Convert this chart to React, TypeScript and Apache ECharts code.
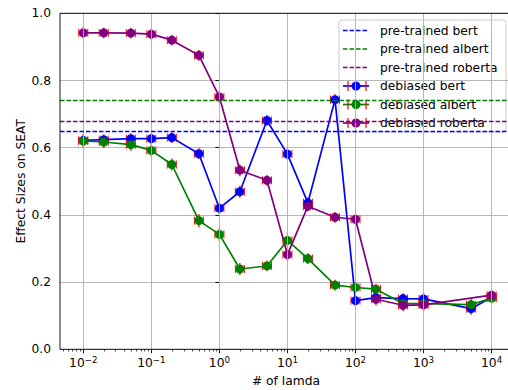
import React, { useEffect, useRef } from 'react';
import * as echarts from 'echarts';

// ---- data ----
const LAMBDAS = [0.01, 0.02, 0.05, 0.1, 0.2, 0.5, 1, 2, 5, 10, 20, 50, 100, 200, 500, 1000, 5000, 10000];
const BERT = [0.622, 0.624, 0.627, 0.627, 0.630, 0.582, 0.420, 0.469, 0.681, 0.581, 0.436, 0.743, 0.145, 0.154, 0.151, 0.150, 0.121, 0.155];
const ALBERT = [0.620, 0.617, 0.609, 0.592, 0.550, 0.383, 0.342, 0.239, 0.248, 0.324, 0.270, 0.191, 0.184, 0.179, 0.136, 0.136, 0.133, 0.152];
const ROBERTA = [0.942, 0.942, 0.941, 0.938, 0.920, 0.875, 0.751, 0.533, 0.503, 0.282, 0.426, 0.393, 0.387, 0.149, 0.131, 0.132, null, 0.161];
const BERT_ERR = [0.018, 0.016, 0.016, 0.016, 0.016, 0.016, 0.018, 0.018, 0.016, 0.016, 0.016, 0.016, 0.016, 0.016, 0.016, 0.018, 0.018, 0.016];
const ALBERT_ERR = [0.02, 0.018, 0.018, 0.018, 0.018, 0.02, 0.02, 0.018, 0.016, 0.02, 0.016, 0.016, 0.016, 0.016, 0.016, 0.016, 0.018, 0.016];
const ROBERTA_ERR = [0.016, 0.016, 0.016, 0.016, 0.016, 0.016, 0.018, 0.018, 0.016, 0.02, 0.016, 0.016, 0.016, 0.018, 0.018, 0.018, null, 0.018];

const PRETRAINED_NAMES = ['pre-trained bert', 'pre-trained albert', 'pre-trained roberta'];
const PRETRAINED_VALUES = [0.654, 0.737, 0.676];
const DEBIASED_NAMES = ['debiased bert', 'debiased albert', 'debiased roberta'];
const COLORS = ['#0000ff', '#008000', '#800080'];

const X_MAJOR_EXP = [-2, -1, 0, 1, 2, 3, 4];
const Y_MIN = 0;
const Y_MAX = 1;
const Y_STEP = 0.2;

const X_MIN = -2.342;
const X_MAX = 4.3;
const FONT = 'DejaVu Sans';
const SUP = (n: number) => String(n).replace('-', '\u2212');

const minorTicks: number[] = [];
for (let e = -3; e <= 4; e++) {
  for (let k = 2; k <= 9; k++) {
    const v = Math.log10(k) + e;
    if (v > X_MIN && v < X_MAX) minorTicks.push(v);
  }
}

function pts(vals: (number | null)[]) {
  const out: number[][] = [];
  vals.forEach((v, i) => {
    if (v !== null) out.push([Math.log10(LAMBDAS[i]), v]);
  });
  return out;
}
function errPts(vals: (number | null)[], errs: (number | null)[]) {
  const out: number[][] = [];
  vals.forEach((v, i) => {
    if (v !== null && errs[i] !== null) out.push([Math.log10(LAMBDAS[i]), v, errs[i] as number]);
  });
  return out;
}

function errSeries(data: number[][]) {
  return {
    type: 'custom',
    z: 2,
    silent: true,
    clip: false,
    data,
    renderItem: (params: any, api: any) => {
      const x = api.value(0);
      const y = api.value(1);
      const e = api.value(2);
      const c = api.coord([x, y]);
      const t = api.coord([x, y + e]);
      const b = api.coord([x, y - e]);
      const st = { stroke: '#ff0000', lineWidth: 1 };
      return {
        type: 'group',
        children: [
          { type: 'line', shape: { x1: c[0], y1: t[1], x2: c[0], y2: b[1] }, style: { stroke: '#ff0000', lineWidth: 1.3 } },
          { type: 'line', shape: { x1: c[0] - 4.5, y1: c[1] - 4, x2: c[0] - 4.5, y2: c[1] + 4 }, style: st },
          { type: 'line', shape: { x1: c[0] + 4.5, y1: c[1] - 4, x2: c[0] + 4.5, y2: c[1] + 4 }, style: st },
        ],
      };
    },
  };
}

function lineSeries(name: string, data: number[][], color: string) {
  return {
    type: 'line',
    name,
    z: 2,
    data,
    symbol: 'circle',
    symbolSize: 9,
    showSymbol: true,
    connectNulls: true,
    lineStyle: { color, width: 1.7 },
    itemStyle: { color },
    silent: true,
  };
}

function buildLegend() {
  const left = 339;
  const top = 20;
  const children: any[] = [
    {
      type: 'rect',
      shape: { x: left, y: top, width: 167, height: 112, r: 3 },
      style: { fill: 'rgba(255,255,255,0.8)', stroke: '#cccccc', lineWidth: 1 },
    },
  ];
  const rowY = (i: number) => 30.5 + i * 18.5;
  PRETRAINED_NAMES.forEach((n, i) => {
    const y = rowY(i);
    children.push({
      type: 'line',
      shape: { x1: 343, y1: y, x2: 369, y2: y },
      style: { stroke: COLORS[i], lineWidth: 1.3, lineDash: [4.5, 2] },
    });
    children.push({
      type: 'text',
      x: 380,
      y,
      style: { text: n, fill: '#000', font: `12.3px "${FONT}"`, verticalAlign: 'middle' },
    });
  });
  DEBIASED_NAMES.forEach((n, j) => {
    const y = rowY(j + 3);
    children.push({
      type: 'line',
      shape: { x1: 343, y1: y, x2: 369, y2: y },
      style: { stroke: COLORS[j], lineWidth: 1.7 },
    });
    [348, 366].forEach((cx) => {
      children.push({
        type: 'line',
        shape: { x1: cx, y1: y - 5, x2: cx, y2: y + 5 },
        style: { stroke: '#ff0000', lineWidth: 1.2 },
      });
    });
    children.push({ type: 'circle', shape: { cx: 356, cy: y, r: 4.5 }, style: { fill: COLORS[j] } });
    children.push({
      type: 'text',
      x: 380,
      y,
      style: { text: n, fill: '#000', font: `12.3px "${FONT}"`, verticalAlign: 'middle' },
    });
  });
  return [{ type: 'group', z: 100, children }];
}

export default function App() {
  const ref = useRef<HTMLDivElement>(null);
  useEffect(() => {
    document.body.style.margin = '0';
    const chart = echarts.init(ref.current!, null, { renderer: 'svg' });
    const option: any = {
      animation: false,
      textStyle: { fontFamily: FONT },
      grid: {
        left: 60,
        top: 13.3,
        width: 452,
        height: 336,
        containLabel: false,
        outerBoundsMode: 'none',
        show: true,
        borderColor: '#000',
        borderWidth: 0.9,
        backgroundColor: 'transparent',
        z: 10,
      },
      xAxis: [
        {
          type: 'value',
          min: X_MIN,
          max: X_MAX,
          axisLine: { show: false },
          splitLine: { show: false },
          axisTick: { show: true, customValues: X_MAJOR_EXP, length: 4, lineStyle: { color: '#000', width: 0.9 } },
          axisLabel: {
            customValues: X_MAJOR_EXP,
            margin: 6,
            color: '#000',
            formatter: (v: number) => `{b|10}{s|${SUP(Math.round(v))}}`,
            rich: {
              b: { fontSize: 12.3, fontFamily: FONT, color: '#000' },
              s: { fontSize: 8.6, fontFamily: FONT, color: '#000', padding: [0, 0, 7, 0] },
            },
          },
          name: '# of lamda',
          nameLocation: 'middle',
          nameGap: 26,
          nameMoveOverlap: false,
          nameTextStyle: { fontSize: 12.3, color: '#000', fontFamily: FONT },
        },
        {
          type: 'value',
          min: X_MIN,
          max: X_MAX,
          position: 'bottom',
          axisLine: { show: false },
          splitLine: { show: false },
          axisLabel: { show: false },
          axisTick: { show: true, customValues: minorTicks, length: 2.2, lineStyle: { color: '#000', width: 0.7 } },
        },
      ],
      yAxis: {
        type: 'value',
        min: Y_MIN,
        max: Y_MAX,
        interval: Y_STEP,
        axisLine: { show: false },
        axisTick: { show: true, length: 4, lineStyle: { color: '#000', width: 0.9 } },
        axisLabel: {
          margin: 9,
          color: '#000',
          fontSize: 12.3,
          fontFamily: FONT,
          formatter: (v: number) => v.toFixed(1),
        },
        splitLine: { show: true, lineStyle: { color: '#b0b0b0', width: 0.9 } },
        name: 'Effect Sizes on SEAT',
        nameLocation: 'middle',
        nameGap: 33,
        nameMoveOverlap: false,
        nameTextStyle: { fontSize: 12.3, color: '#000', fontFamily: FONT },
      },
      graphic: buildLegend(),
      series: [
        {
          type: 'line',
          data: [],
          z: 0,
          silent: true,
          markLine: {
            silent: true,
            symbol: 'none',
            label: { show: false },
            lineStyle: { color: '#b0b0b0', width: 0.9, type: 'solid' },
            data: X_MAJOR_EXP.map((e) => ({ xAxis: e })),
          },
        },
        ...PRETRAINED_NAMES.map((n, i) => ({
          type: 'line',
          name: n,
          data: [],
          z: 1,
          silent: true,
          markLine: {
            silent: true,
            symbol: 'none',
            label: { show: false },
            lineStyle: { color: COLORS[i], width: 1.3, type: [4.5, 2] },
            data: [{ yAxis: PRETRAINED_VALUES[i] }],
          },
        })),
        errSeries(errPts(BERT, BERT_ERR)),
        lineSeries(DEBIASED_NAMES[0], pts(BERT), COLORS[0]),
        errSeries(errPts(ALBERT, ALBERT_ERR)),
        lineSeries(DEBIASED_NAMES[1], pts(ALBERT), COLORS[1]),
        errSeries(errPts(ROBERTA, ROBERTA_ERR)),
        lineSeries(DEBIASED_NAMES[2], pts(ROBERTA), COLORS[2]),
      ],
    };
    chart.setOption(option);
    return () => chart.dispose();
  }, []);
  return <div ref={ref} style={{ width: 508, height: 390 }} />;
}
